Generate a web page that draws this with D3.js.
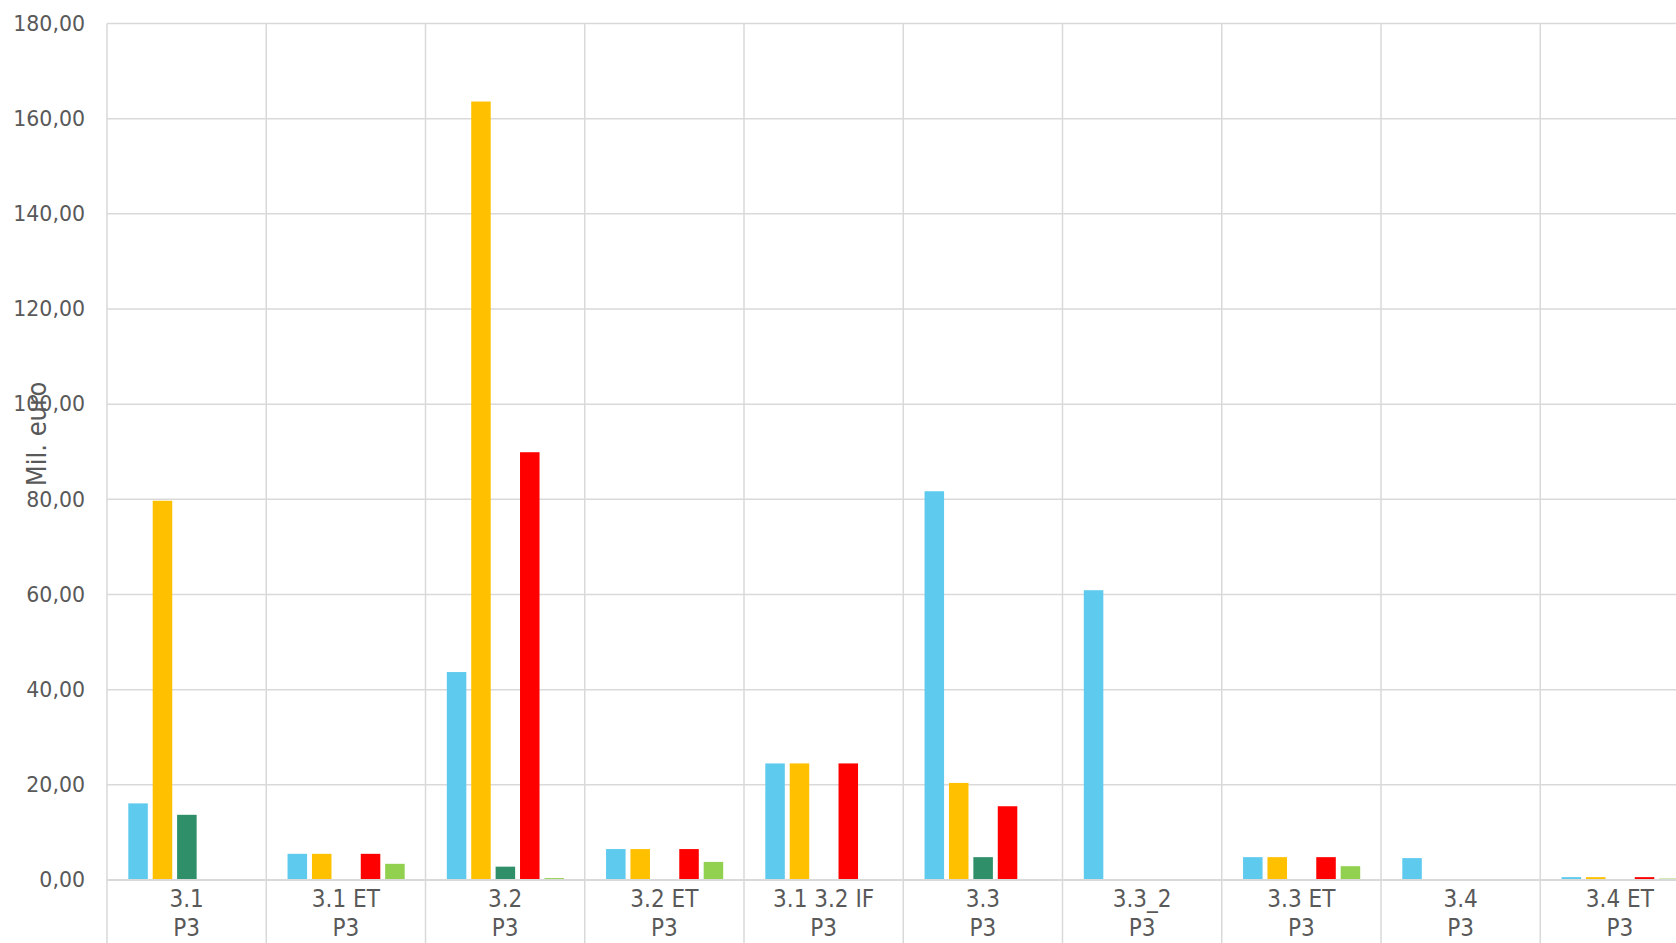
<!DOCTYPE html>
<html>
<head>
<meta charset="utf-8">
<script src="https://cdn.jsdelivr.net/npm/d3@7"></script>
<style>
  body { margin: 0; background: #fff; overflow: hidden; }
  svg { display: block; font-family: "DejaVu Sans Condensed", "DejaVu Sans", sans-serif; }
  .grid line { stroke: #d9d9d9; stroke-width: 1.5; }
  .tick-label { fill: #595959; font-size: 20.5px; font-family: "DejaVu Sans", sans-serif; }
  .cat-label { fill: #595959; font-size: 24px; }
</style>
</head>
<body>
<script>
// categories (two levels)
let categories = ['3.1', '3.1 ET', '3.2', '3.2 ET', '3.1 3.2 IF', '3.3', '3.3_2', '3.3 ET', '3.4', '3.4 ET']
let groupLabel = 'P3'

// series values, Mil. euro
let seriesA = [16.1, 5.5, 43.7, 6.5, 24.5, 81.7, 60.9, 4.8, 4.6, 0.6]
let seriesB = [79.7, 5.5, 163.6, 6.5, 24.5, 20.4, 0, 4.8, 0, 0.6]
let seriesC = [13.7, 0, 2.8, 0, 0, 4.8, 0, 0, 0, 0]
let seriesD = [0, 5.5, 89.9, 6.5, 24.5, 15.5, 0, 4.8, 0, 0.6]
let seriesE = [0, 3.4, 0.4, 3.8, 0, 0, 0, 2.9, 0, 0.3]

let yTicks = [0, 20, 40, 60, 80, 100, 120, 140, 160, 180]
let yTitle = 'Mil. euro'

let seriesColors = ['#5dcaee', '#ffc000', '#2e8f68', '#ff0000', '#92d050']

document.addEventListener("DOMContentLoaded", function(event){

  let series = [seriesA, seriesB, seriesC, seriesD, seriesE]
  let rows = categories.map((c, i) => {
    return {cat: c, values: series.map((s, k) => ({key: k, val: s[i]}))}
  })

  var W = 1676, H = 943
  var margin = {top: 23.5, left: 107}
  var catW = 159.25
  var plotH = 856.5

  let svg = d3.select('body').append('svg')
    .attr('width', W)
    .attr('height', H)

  var x0 = d3.scaleBand()
    .domain(categories)
    .range([margin.left, margin.left + catW * categories.length])
    .padding(0)

  var x1 = d3.scaleBand()
    .domain(series.map((s, k) => k))
    .range([21.3, catW - 20.8])
    .paddingInner(0.2)
    .paddingOuter(0)

  var y = d3.scaleLinear()
    .domain([0, 180])
    .range([margin.top + plotH, margin.top])

  // horizontal grid
  let grid = svg.append('g').attr('class', 'grid')
  grid.selectAll('.hline')
    .data(yTicks)
    .enter().append('line')
    .attr('x1', margin.left)
    .attr('x2', W)
    .attr('y1', d => y(d))
    .attr('y2', d => y(d))

  // vertical lines at category boundaries, running down through the label rows
  grid.selectAll('.vline')
    .data(categories)
    .enter().append('line')
    .attr('x1', d => x0(d))
    .attr('x2', d => x0(d))
    .attr('y1', margin.top)
    .attr('y2', H)

  // bars
  let group = svg.selectAll('.cat')
    .data(rows)
    .enter().append('g')
    .attr('class', 'cat')
    .attr('transform', d => 'translate(' + x0(d.cat) + ',0)')

  group.selectAll('rect')
    .data(d => d.values.filter(v => v.val > 0))
    .enter().append('rect')
    .attr('x', d => x1(d.key))
    .attr('width', x1.bandwidth())
    .attr('y', d => y(d.val))
    .attr('height', d => y(0) - y(d.val))
    .attr('fill', d => seriesColors[d.key])

  // zero axis line on top
  svg.append('line')
    .attr('x1', margin.left)
    .attr('x2', W)
    .attr('y1', y(0))
    .attr('y2', y(0))
    .style('stroke', '#d9d9d9')
    .style('stroke-width', 2)

  // y tick labels
  let fmt = d3.format('.2f')
  svg.selectAll('.tick-label')
    .data(yTicks)
    .enter().append('text')
    .attr('class', 'tick-label')
    .attr('x', 85)
    .attr('y', d => y(d))
    .attr('dy', '0.35em')
    .attr('text-anchor', 'end')
    .text(d => fmt(d).replace('.', ','))

  // category labels, two levels
  svg.selectAll('.cat-label.l1')
    .data(categories)
    .enter().append('text')
    .attr('class', 'cat-label l1')
    .attr('x', d => x0(d) + x0.bandwidth() / 2)
    .attr('y', 907)
    .attr('text-anchor', 'middle')
    .text(d => d)

  svg.selectAll('.cat-label.l2')
    .data(categories)
    .enter().append('text')
    .attr('class', 'cat-label l2')
    .attr('x', d => x0(d) + x0.bandwidth() / 2)
    .attr('y', 936)
    .attr('text-anchor', 'middle')
    .text(groupLabel)

  // axis title
  svg.append('text')
    .attr('transform', 'translate(46,434) rotate(-90)')
    .attr('text-anchor', 'middle')
    .style('fill', '#595959')
    .style('font-size', '27px')
    .text(yTitle)

});
</script>
</body>
</html>
